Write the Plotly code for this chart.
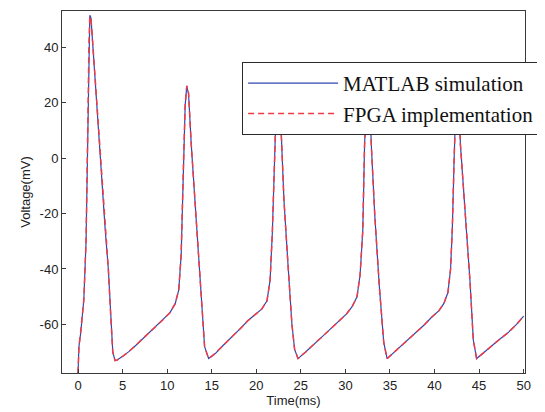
import plotly.graph_objects as go

# time axis (ms)
time_ms = [0.0, 0.1, 0.3, 0.65, 0.9, 1.05, 1.15, 1.22, 1.32, 1.45, 1.75, 2.1, 2.35, 2.7,
           3.05, 3.4, 3.65, 3.9, 4.15, 4.4, 5.0, 5.7, 6.5, 7.5, 8.5, 9.5, 10.3, 10.9,
           11.3, 11.57, 11.83, 12.02, 12.2, 12.4, 12.7, 13.15, 13.52, 13.9, 14.2, 14.65,
           15.4, 16.3, 17.3, 18.2, 19.1, 20.0, 20.6, 21.2, 21.55, 21.8, 22.05, 22.25,
           22.45, 22.65, 22.85, 23.1, 23.55, 24.0, 24.3, 24.68, 25.5, 26.4, 27.4, 28.3,
           29.25, 30.1, 30.75, 31.3, 31.65, 31.95, 32.15, 32.35, 32.55, 32.75, 32.9,
           33.3, 33.8, 34.3, 34.68, 35.3, 36.0, 36.9, 37.9, 38.8, 39.7, 40.5, 41.05,
           41.5, 41.8, 42.0, 42.2, 42.4, 42.55, 42.75, 42.9, 43.37, 43.97, 44.35, 44.72,
           45.4, 46.3, 47.2, 48.2, 49.2, 50.0]

matlab_mv = [-77.5, -68, -63, -51, -30, -3, 25, 42, 51.5, 50.5, 36, 19, 6, -10,
             -26, -40, -56, -70, -73, -72.8, -71.5, -69.8, -67.5, -64.5, -61.5, -58.5, -55.8, -52.5,
             -47.5, -35, -2, 19, 26, 23, 5, -18, -34, -54, -68, -72.3,
             -70.5, -67.5, -64.5, -61.5, -58.5, -56, -54.5, -51.5, -44, -27, 5, 20,
             25, 20, 5, -15, -38, -60, -69, -72.3, -70, -67.2, -64.4, -61.7,
             -59, -56.3, -53.6, -50, -42, -26, 5, 20, 25, 20, 5,
             -21, -46, -66.5, -72.3, -70.5, -68.6, -66, -63.2, -60.3, -57.3, -55, -52.4,
             -48.5, -40, -25, 0, 20, 25, 20, 5, -15, -44, -65.6, -72.3,
             -70.5, -68, -65.6, -63.1, -60, -57]

fpga_mv = [-77.5, -68, -62.5, -51, -30, -4, 24, 41, 51, 50.5, 36.5, 19, 6, -10,
           -26, -40, -56, -70, -73, -72.8, -71.5, -69.8, -67.4, -64.5, -61.5, -58.4, -55.8, -52.5,
           -47.5, -35, -2, 19, 26, 23.5, 5, -18, -34, -54, -68, -72.3,
           -70.4, -67.5, -64.5, -61.5, -58.5, -56, -54.5, -51.5, -44, -27, 5, 20,
           25, 20, 5, -15, -38, -60, -69, -72.3, -70, -67.2, -64.4, -61.7,
           -59, -56.3, -53.6, -50, -42, -26, 5, 20, 25, 20, 5,
           -21, -46, -66.5, -72.3, -70.5, -68.6, -66, -63.2, -60.3, -57.3, -55, -52.4,
           -48.5, -40, -25, 0, 20, 25, 20, 5, -15, -44, -65.6, -72.3,
           -70.5, -68, -65.6, -63.1, -60, -57]

x_ticks = [0, 5, 10, 15, 20, 25, 30, 35, 40, 45, 50]
y_ticks = [-60, -40, -20, 0, 20, 40]
y_tick_labels = ['-60', '-40', '-20', '0', '20', '40']

# the page body has an 8px default margin, so the figure is 8px smaller
PAGE_OFFSET = 8

fig = go.Figure()
fig.add_trace(go.Scatter(x=time_ms, y=matlab_mv, mode='lines', name='MATLAB simulation',
                         line=dict(color='#3346b0', width=1.2)))
fig.add_trace(go.Scatter(x=time_ms, y=fpga_mv, mode='lines', name='FPGA implementation',
                         line=dict(color='#ee3b46', width=1.5, dash='6px,4px')))

axis_style = dict(showgrid=False, zeroline=False, showline=True, mirror=True,
                  linecolor='#3a3a3a', linewidth=1, ticks='inside', ticklen=4,
                  tickcolor='#3a3a3a',
                  tickfont=dict(family='Liberation Sans, Arial', size=13, color='#222222'))

fig.update_xaxes(range=[-1.8, 50.15], tickvals=x_ticks,
                 title=dict(text='Time(ms)', standoff=4,
                            font=dict(family='Liberation Sans, Arial', size=13, color='#222222')),
                 **axis_style)
fig.update_yaxes(range=[-77.5, 53], tickvals=y_ticks, ticktext=y_tick_labels,
                 title=dict(text='Voltage(mV)', standoff=6,
                            font=dict(family='Liberation Sans, Arial', size=13, color='#222222')),
                 **axis_style)

fig.update_layout(
    width=545 - PAGE_OFFSET, height=412 - PAGE_OFFSET,
    margin=dict(l=62 - PAGE_OFFSET, r=20, t=11 - PAGE_OFFSET, b=39, autoexpand=False),
    paper_bgcolor='white', plot_bgcolor='white',
    legend=dict(x=0.389, y=0.859, xanchor='left', yanchor='top',
                bgcolor='white', bordercolor='#2a2a2a', borderwidth=1,
                itemwidth=90, tracegroupgap=0,
                font=dict(family='Liberation Serif, Times New Roman', size=21, color='#111111')),
)

fig.write_html("out.html")
